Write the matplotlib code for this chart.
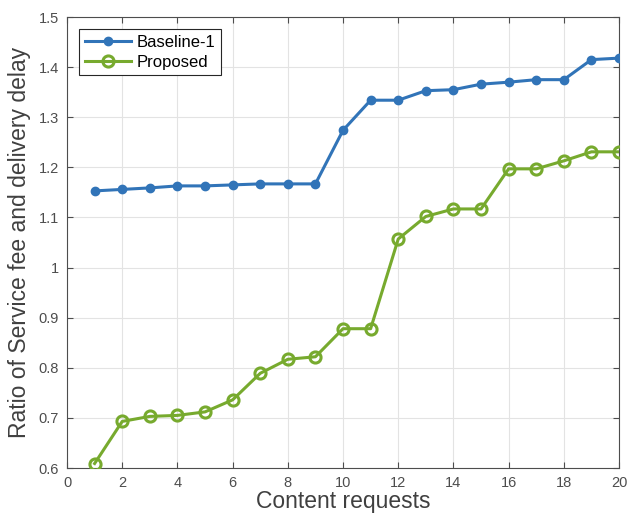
import matplotlib
matplotlib.use("Agg")
import matplotlib.pyplot as plt
import numpy as np

# data
requests = list(range(1, 21))
baseline = [1.153, 1.156, 1.159, 1.163, 1.163, 1.165, 1.167, 1.167, 1.167, 1.274,
            1.334, 1.334, 1.353, 1.355, 1.366, 1.370, 1.375, 1.375, 1.415, 1.418]
proposed = [0.609, 0.693, 0.703, 0.705, 0.712, 0.736, 0.789, 0.817, 0.822, 0.878,
            0.878, 1.057, 1.102, 1.117, 1.117, 1.197, 1.197, 1.213, 1.231, 1.231]
x_ticks = list(range(0, 21, 2))
y_ticks = [0.6, 0.7, 0.8, 0.9, 1.0, 1.1, 1.2, 1.3, 1.4, 1.5]
y_labels = ["0.6", "0.7", "0.8", "0.9", "1", "1.1", "1.2", "1.3", "1.4", "1.5"]

plt.rcParams["font.family"] = ["Liberation Sans", "DejaVu Sans"]

fig = plt.figure(figsize=(6.27, 5.16), dpi=100)
ax = fig.add_axes([0.1069, 0.093, 0.8804, 0.874])

ax.plot(requests, baseline, "-o", color="#3174b8", lw=2.2, ms=6,
        label="Baseline-1", zorder=3)
ax.plot(requests, proposed, "-o", color="#77aa2e", lw=2.2, ms=8,
        mfc="none", mew=2.2, label="Proposed", zorder=3)

ax.set_xlim(0, 20)
ax.set_ylim(0.6, 1.5)
ax.set_xticks(x_ticks)
ax.set_yticks(y_ticks)
ax.set_yticklabels(y_labels)
ax.grid(True, color="#e3e3e3", lw=0.8)
ax.set_axisbelow(True)
ax.tick_params(direction="in", top=True, right=True, labelsize=10.5,
               colors="#4d4d4d", length=4, width=0.8, pad=6)
for s in ax.spines.values():
    s.set_color("#4d4d4d")
    s.set_linewidth(0.8)

ax.set_xlabel("Content requests", fontsize=16.5, color="#404040", labelpad=0)
ax.set_ylabel("Ratio of Service fee and delivery delay", fontsize=16.5,
              color="#404040", labelpad=5)

leg = ax.legend(loc="upper left", fontsize=12, fancybox=False,
                edgecolor="#262626", framealpha=1, borderaxespad=0.7,
                handlelength=2.8, handletextpad=0.3, borderpad=0.35,
                labelspacing=0.3)
leg.get_frame().set_linewidth(0.8)
for t in leg.get_texts():
    t.set_color("#000000")

fig.savefig("out.png", dpi=100)
